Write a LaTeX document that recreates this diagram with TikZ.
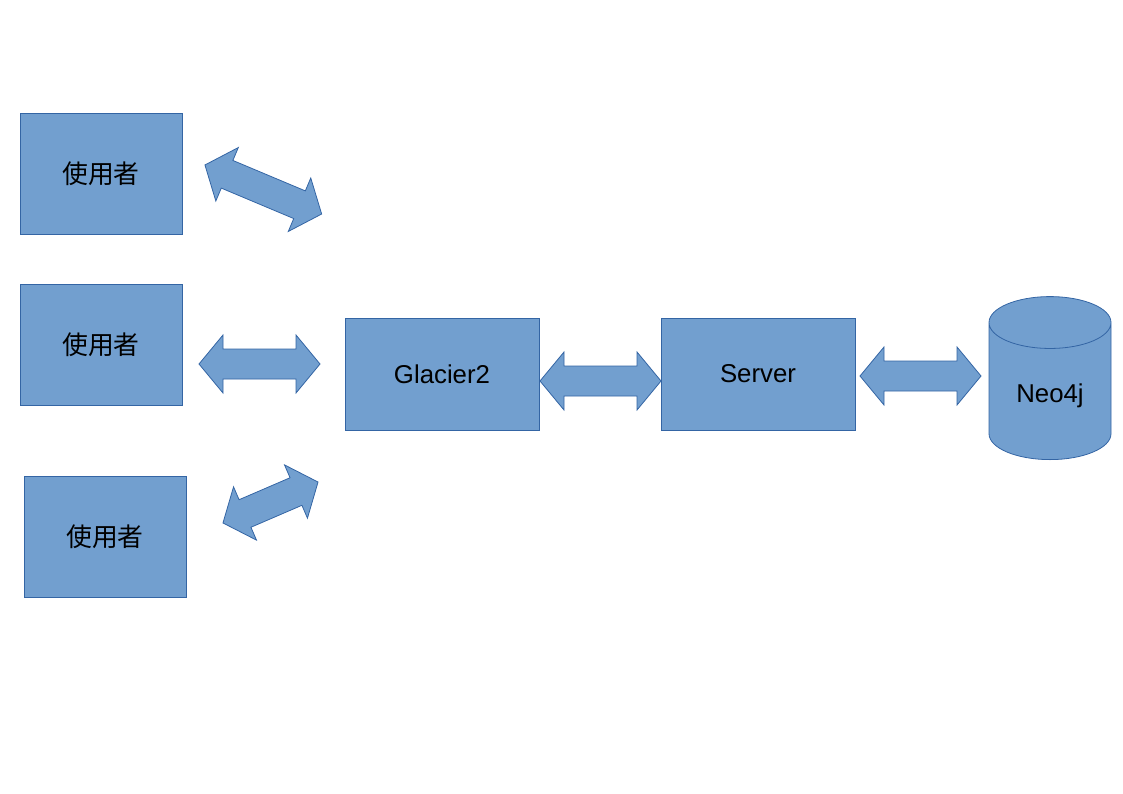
\documentclass[tikz,border=0pt]{standalone}
\usepackage{fontspec}
\setmainfont{Liberation Sans}
\newfontfamily\cjk{Noto Sans CJK TC}
\usepackage{xcolor}
\usepackage{tikz}
\usetikzlibrary{shapes.geometric}
\definecolor{boxfill}{HTML}{729FCF}
\definecolor{boxline}{HTML}{3465A4}

\begin{document}
\begin{tikzpicture}[x=1pt,y=-1pt,
	box/.style={draw=boxline, fill=boxfill, line width=0.8pt, minimum width=162pt, minimum height=121pt, font=\fontsize{25.8}{30}\selectfont},
	blockarrow/.style={draw=boxline, fill=boxfill, line width=0.8pt, line join=miter}]
	\useasboundingbox (0,0) rectangle (1123,794);
	% users
	\node[box] (u1) at (101,173.5) {\cjk 使用者};
	\node[box] (u2) at (101,344.5) {\cjk 使用者};
	\node[box] (u3) at (105,537) {\cjk 使用者};
	% middle and back end
	\node[box, minimum width=194pt, minimum height=112pt] (glacier) at (442,374) {Glacier2};
	\node[box, minimum width=194pt, minimum height=112pt] (server) at (758,374) {Server};
	\node[box, cylinder, shape border rotate=90, aspect=0.70, minimum width=122pt, minimum height=163pt, anchor=south] (neo) at (1050,460) {Neo4j};
	% block arrows: centre x / centre y / angle / length
	\foreach \cx/\cy/\ang/\l in {263.3/189.5/-22.8/126.6, 259.5/364/0/121, 270.5/502.5/23.3/103.5, 600.5/381/0/121, 920.5/376/0/121}
	{
		\begin{scope}[shift={(\cx,\cy)}, rotate=\ang]
			\draw[blockarrow] ({-\l/2},0) -- ({-\l/2+24},29) -- ({-\l/2+24},15) -- ({\l/2-24},15) -- ({\l/2-24},29) -- ({\l/2},0)
				-- ({\l/2-24},-29) -- ({\l/2-24},-15) -- ({-\l/2+24},-15) -- ({-\l/2+24},-29) -- cycle;
		\end{scope}
	}
\end{tikzpicture}
\end{document}
